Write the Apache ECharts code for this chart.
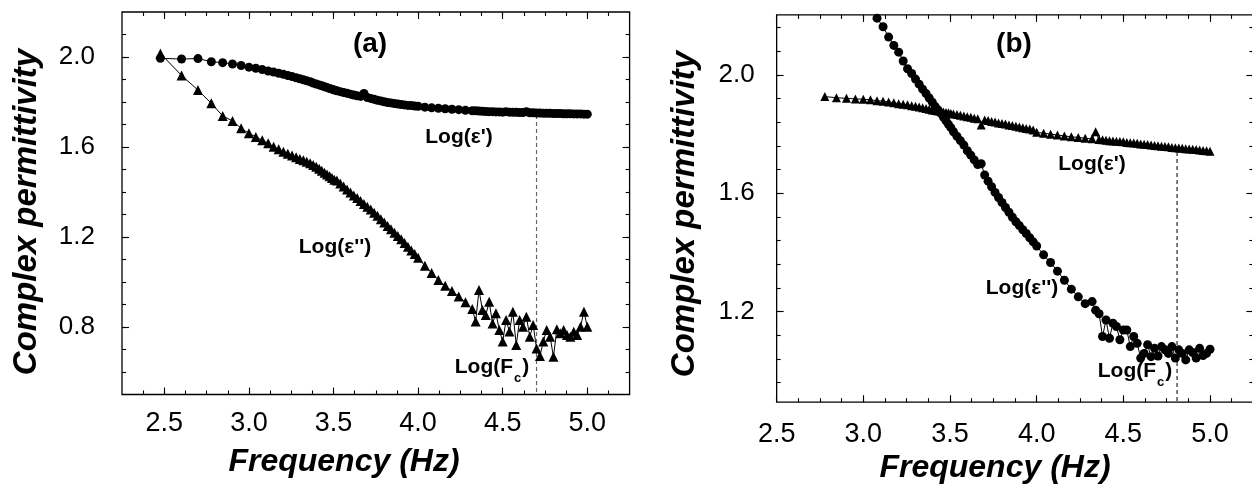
<!DOCTYPE html>
<html><head><meta charset="utf-8">
<script src="https://cdn.jsdelivr.net/npm/echarts@6/dist/echarts.min.js"></script>
<style>html,body{margin:0;padding:0;background:#fff}#c{width:1252px;height:487px}</style>
</head><body><div id="c"></div><script>
// ---------- Panel (a) data ----------
var freqA = [2.477,2.602,2.699,2.778,2.845,2.903,2.954,3.000,3.041,3.079,3.114,3.146,3.176,3.204,3.230,3.255,3.279,3.301,3.322,3.342,3.362,3.380,3.398,3.415,3.431,3.447,3.462,3.477,3.491,3.505,
  3.52,3.54,3.56,3.58,3.60,3.62,3.64,3.66,3.68,3.70,3.72,3.74,3.76,3.78,3.80,3.82,3.84,3.86,3.88,3.90,3.92,3.94,3.96,3.98,4.00,
  4.04,4.08,4.12,4.16,4.20,4.24,4.28,
  4.32,4.34,4.36,4.38,4.40,4.42,4.44,4.46,4.48,4.50,4.52,4.54,4.56,4.58,4.60,4.62,4.64,4.66,4.68,4.70,4.72,4.74,4.76,4.78,4.80,4.82,4.84,4.86,4.88,4.90,4.92,4.94,4.96,4.98,5.00];
var epsRealA = [1.994,1.991,1.993,1.979,1.975,1.969,1.962,1.955,1.950,1.944,1.938,1.933,1.928,1.923,1.918,1.913,1.908,1.903,1.899,1.894,1.890,1.884,1.880,1.876,1.872,1.868,1.864,1.860,1.857,1.853,
  1.850,1.846,1.842,1.839,1.835,1.831,1.828,1.825,1.838,1.820,1.816,1.812,1.808,1.805,1.801,1.798,1.796,1.793,1.791,1.789,1.787,1.785,1.784,1.782,1.781,
  1.777,1.774,1.772,1.770,1.768,1.766,1.763,
  1.761,1.761,1.760,1.759,1.758,1.757,1.757,1.756,1.756,1.755,1.757,1.755,1.754,1.754,1.753,1.753,1.757,1.752,1.752,1.751,1.751,1.750,1.750,1.750,1.749,1.749,1.749,1.748,1.748,1.748,1.747,1.747,1.747,1.746,1.746];
var epsImagA = [2.016,1.918,1.853,1.794,1.738,1.716,1.683,1.661,1.645,1.630,1.617,1.601,1.590,1.579,1.570,1.562,1.554,1.547,1.541,1.535,1.528,1.520,1.512,1.503,1.495,1.486,1.478,1.470,1.462,1.455,
  1.451,1.438,1.424,1.411,1.398,1.385,1.373,1.360,1.347,1.335,1.322,1.308,1.294,1.279,1.264,1.249,1.234,1.219,1.204,1.190,1.173,1.157,1.140,1.124,1.108,
  1.072,1.040,1.009,0.983,0.960,0.936,0.910,
  0.880,0.824,0.964,0.876,0.853,0.912,0.816,0.861,0.787,0.736,0.831,0.780,0.868,0.720,0.831,0.801,0.846,0.757,0.809,0.705,0.671,0.736,0.787,0.757,0.668,0.790,0.772,0.787,0.764,0.757,0.779,0.764,0.801,0.868,0.801];
var cutoffA = [4.70, 1.742];

// ---------- Panel (b) data ----------
var freqB = [2.778,2.845,2.903,2.954,3.000,3.041,3.079,3.114,3.146,3.176,3.204,3.230,3.255,3.279,3.301,3.322,3.342,3.362,3.380,3.398,3.415,3.431,3.447,3.462,3.477,3.491,3.505,
  3.52,3.54,3.56,3.58,3.60,3.62,3.64,3.66,3.68,3.70,3.72,3.74,3.76,3.78,3.80,3.82,3.84,3.86,3.88,3.90,3.92,3.94,3.96,3.98,4.00,
  4.04,4.08,4.12,4.16,4.20,4.24,4.28,
  4.32,4.34,4.36,4.38,4.40,4.42,4.44,4.46,4.48,4.50,4.52,4.54,4.56,4.58,4.60,4.62,4.64,4.66,4.68,4.70,4.72,4.74,4.76,4.78,4.80,4.82,4.84,4.86,4.88,4.90,4.92,4.94,4.96,4.98,5.00];
var epsRealB = [1.927,1.923,1.921,1.919,1.918,1.916,1.913,1.911,1.909,1.906,1.903,1.901,1.899,1.896,1.894,1.892,1.889,1.887,1.884,1.882,1.880,1.878,1.877,1.875,1.873,1.872,1.870,
  1.868,1.866,1.864,1.861,1.859,1.857,1.854,1.852,1.831,1.848,1.846,1.843,1.841,1.838,1.836,1.834,1.831,1.829,1.827,1.824,1.822,1.819,1.817,1.814,1.806,
  1.803,1.800,1.797,1.794,1.791,1.789,1.786,
  1.784,1.808,1.782,1.781,1.779,1.778,1.777,1.776,1.775,1.774,1.772,1.771,1.770,1.769,1.767,1.766,1.765,1.763,1.762,1.761,1.759,1.758,1.757,1.755,1.754,1.753,1.752,1.751,1.750,1.749,1.748,1.746,1.745,1.744,1.742];
var epsImagB = [null,null,null,null,null,null,2.192,2.163,2.128,2.100,2.077,2.047,2.021,2.005,1.986,1.969,1.952,1.937,1.922,1.908,1.893,1.882,1.870,1.858,1.845,1.833,1.822,
  1.808,1.793,1.778,1.763,1.744,1.729,1.713,1.697,1.700,1.662,1.641,1.622,1.603,1.586,1.569,1.552,1.536,1.519,1.504,1.491,1.477,1.464,1.450,1.436,1.422,
  1.392,1.366,1.337,1.306,1.276,1.250,1.227,
  1.234,1.205,1.193,1.116,1.172,1.110,1.161,1.150,1.105,1.138,1.138,1.082,1.116,1.093,1.043,1.059,1.088,1.048,1.076,1.050,1.082,1.071,1.059,1.082,1.043,1.071,1.059,1.037,1.071,1.062,1.043,1.076,1.052,1.059,1.073];
var cutoffB = [4.81, 1.740];

// ---------- Axis ticks / labels ----------
var xMajorA = [2.5,3.0,3.5,4.0,4.5,5.0];
var xMinorA = [2.375,2.5,2.625,2.75,2.875,3.0,3.125,3.25,3.375,3.5,3.625,3.75,3.875,4.0,4.125,4.25,4.375,4.5,4.625,4.75,4.875,5.0,5.125];
var yMajorA = [0.8,1.2,1.6,2.0];
var yMinorA = [0.6,0.7,0.8,0.9,1.0,1.1,1.2,1.3,1.4,1.5,1.6,1.7,1.8,1.9,2.0,2.1];
var xMajorB = [2.5,3.0,3.5,4.0,4.5,5.0];
var xMinorB = [2.625,2.75,2.875,3.0,3.125,3.25,3.375,3.5,3.625,3.75,3.875,4.0,4.125,4.25,4.375,4.5,4.625,4.75,4.875,5.0,5.125];
var yMajorB = [1.2,1.6,2.0];
var yMinorB = [0.96,1.04,1.12,1.20,1.28,1.36,1.44,1.52,1.60,1.68,1.76,1.84,1.92,2.00,2.08,2.16];
var rangeA = {xMin:2.25, xMax:5.25, yMin:0.5, yMax:2.2};
var rangeB = {xMin:2.5, xMax:5.25, yMin:0.894, yMax:2.203};

var FONT = '"Liberation Sans", Arial, Helvetica, sans-serif';

function pairs(xs, ys){
  var out = [];
  for (var i=0;i<xs.length;i++){ if (ys[i]!=null) out.push([xs[i], ys[i]]); }
  return out;
}
function tick(vals, len){ return {show:true, inside:true, length:len, customValues:vals, lineStyle:{color:'#000', width:1.1}}; }
function axesX(g, r, majors, minors, margin){
  var base = {gridIndex:g, type:'value', min:r.xMin, max:r.xMax, splitLine:{show:false}, axisLine:{show:false, onZero:false}};
  return [
    Object.assign({}, base, {position:'bottom', axisTick:tick(majors,7),
      axisLabel:{show:true, customValues:majors, formatter:function(v){return v.toFixed(1);}, margin:margin, color:'#000', fontSize:27, fontFamily:FONT}}),
    Object.assign({}, base, {position:'bottom', axisTick:tick(minors,4), axisLabel:{show:false}}),
    Object.assign({}, base, {position:'top', axisTick:tick(majors,7), axisLabel:{show:false}}),
    Object.assign({}, base, {position:'top', axisTick:tick(minors,4), axisLabel:{show:false}})
  ];
}
function axesY(g, r, majors, minors, margin){
  var base = {gridIndex:g, type:'value', min:r.yMin, max:r.yMax, splitLine:{show:false}, axisLine:{show:false, onZero:false}};
  return [
    Object.assign({}, base, {position:'left', axisTick:tick(majors,7),
      axisLabel:{show:true, customValues:majors, formatter:function(v){return v.toFixed(1);}, margin:margin, color:'#000', fontSize:26, fontFamily:FONT}}),
    Object.assign({}, base, {position:'left', axisTick:tick(minors,4), axisLabel:{show:false}}),
    Object.assign({}, base, {position:'right', axisTick:tick(majors,7), axisLabel:{show:false}}),
    Object.assign({}, base, {position:'right', axisTick:tick(minors,4), axisLabel:{show:false}})
  ];
}
function dataSeries(xi, yi, data, sym, size){
  return {type:'line', xAxisIndex:xi, yAxisIndex:yi, data:data, symbol:sym, symbolSize:size, showAllSymbol:true,
    itemStyle:{color:'#000'}, lineStyle:{color:'#000', width:1}, z:3, animation:false, silent:true};
}
function dashSeries(xi, yi, c, yMin, color){
  return {type:'line', xAxisIndex:xi, yAxisIndex:yi, data:[[c[0], c[1]],[c[0], yMin]], symbol:'none',
    lineStyle:{color:color, width:1.2, type:[4,3]}, z:2, animation:false, silent:true};
}
function txt(x, y, s, font, rot){
  return {type:'text', x:x, y:y, rotation:rot||0, silent:true, z:10,
    style:{text:s, font:font, fill:'#000', align:'center', verticalAlign:'middle'}};
}
function fcLabel(x, y){
  return {type:'text', x:x, y:y, silent:true, z:10,
    style:{text:'{a|Log(F}{s|c}{a|)}', fill:'#000', align:'center', verticalAlign:'top',
      rich:{a:{fontFamily:FONT, fontWeight:'bold', fontSize:21, lineHeight:25, verticalAlign:'top'},
            s:{fontFamily:FONT, fontWeight:'bold', fontSize:13, lineHeight:13, verticalAlign:'top', padding:[15,1,0,1]}}}};
}

var chart = echarts.init(document.getElementById('c'), null, {renderer:'canvas'});
var TITLE = 'italic bold 32px ' + FONT;
var ANN = 'bold 21px ' + FONT;
chart.setOption({
  backgroundColor:'#fff',
  animation:false,
  grid:[
    {left:122, top:12, width:507.6, height:382.5, show:true, borderColor:'#000', borderWidth:1.3, backgroundColor:'transparent', containLabel:false, outerBoundsMode:'none'},
    {left:776.65, top:14.9, width:476.7, height:387.3, show:true, borderColor:'#000', borderWidth:1.3, backgroundColor:'transparent', containLabel:false, outerBoundsMode:'none'}
  ],
  xAxis: axesX(0, rangeA, xMajorA, xMinorA, 16).concat(axesX(1, rangeB, xMajorB, xMinorB, 19)),
  yAxis: axesY(0, rangeA, yMajorA, yMinorA, 27).concat(axesY(1, rangeB, yMajorB, yMinorB, 22)),
  series:[
    dashSeries(0, 0, cutoffA, rangeA.yMin, '#666'),
    dataSeries(0, 0, pairs(freqA, epsRealA), 'circle', 9),
    dataSeries(0, 0, pairs(freqA, epsImagA), 'triangle', 10),
    dashSeries(4, 4, cutoffB, rangeB.yMin, '#222'),
    dataSeries(4, 4, pairs(freqB, epsRealB), 'triangle', 9),
    dataSeries(4, 4, pairs(freqB, epsImagB), 'circle', 9)
  ],
  graphic:[
    txt(344, 462, 'Frequency (Hz)', TITLE),
    txt(995, 468, 'Frequency (Hz)', TITLE),
    txt(27, 212, 'Complex permittivity', 'italic bold 33px ' + FONT, Math.PI/2),
    txt(685, 214, 'Complex permittivity', 'italic bold 33px ' + FONT, Math.PI/2),
    txt(370, 44, '(a)', 'bold 28px ' + FONT),
    txt(1014, 44, '(b)', 'bold 28px ' + FONT),
    txt(459, 137, "Log(\u03b5')", ANN),
    txt(335, 247, "Log(\u03b5'')", ANN),
    txt(1092, 164, "Log(\u03b5')", ANN),
    txt(1022, 288, "Log(\u03b5'')", ANN),
    fcLabel(492, 357),
    fcLabel(1135, 361)
  ]
});
</script></body></html>
